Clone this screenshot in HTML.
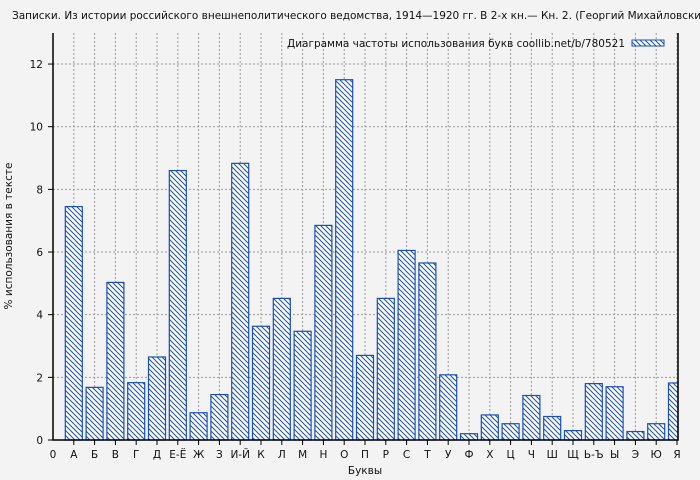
<!DOCTYPE html>
<html><head><meta charset="utf-8"><style>
html,body{margin:0;padding:0;background:#f3f3f3;}
svg{display:block;font-family:"DejaVu Sans","Liberation Sans",sans-serif;}
</style></head><body>
<svg id="chart" width="700" height="480" xmlns="http://www.w3.org/2000/svg">
<defs><pattern id="hatch" patternUnits="userSpaceOnUse" width="5" height="5">
<rect width="5" height="5" fill="#fff"/>
<path d="M-1,-1 L6,6 M-1,4 L1,6 M4,-1 L6,1" stroke="#1a4fb8" stroke-width="1"/>
</pattern></defs>
<text x="12" y="19" font-size="10.5" textLength="700" fill="#111">Записки. Из истории российского внешнеполитического ведомства, 1914—1920 гг. В 2-х кн.— Кн. 2. (Георгий Михайловский)</text>
<g id="grid"></g><g id="bars"></g><g id="axes"></g>
<text transform="translate(12,236) rotate(-90)" text-anchor="middle" font-size="10.5" fill="#111">% использования в тексте</text>
<text x="365" y="474" text-anchor="middle" font-size="10.5" fill="#111">Буквы</text>
<g>
<text x="287" y="47" textLength="338" font-size="10.5" fill="#111">Диаграмма частоты использования букв coollib.net/b/780521</text>
<rect x="632" y="40" width="32" height="6" fill="url(#hatch)" stroke="#1a4fb8"/>
</g>
</svg>
<script>
const categories=["А","Б","В","Г","Д","Е-Ё","Ж","З","И-Й","К","Л","М","Н","О","П","Р","С","Т","У","Ф","Х","Ц","Ч","Ш","Щ","Ь-Ъ","Ы","Э","Ю","Я"];
const values=[7.45,1.68,5.03,1.83,2.65,8.6,0.87,1.45,8.83,3.63,4.52,3.47,6.85,11.5,2.7,4.52,6.05,5.65,2.08,0.2,0.8,0.52,1.42,0.75,0.3,1.8,1.7,0.27,0.52,1.82];
const yTicks=[0,2,4,6,8,10,12];
const NS="http://www.w3.org/2000/svg";
const L=53,R=678,T=33,B=440;
const x=i=>L+i*20.8;
const y=v=>B-v*31.33;
function mk(tag,attrs,parent){const e=document.createElementNS(NS,tag);for(const k in attrs)e.setAttribute(k,attrs[k]);parent.appendChild(e);return e;}
const grid=document.getElementById('grid'),bars=document.getElementById('bars'),axes=document.getElementById('axes');
yTicks.forEach(t=>{
 if(t>0){const g=mk('line',{x1:L,x2:R,y1:y(t),y2:y(t),stroke:'#999','stroke-dasharray':'2,2'},grid);
 
 }
 const tk=mk('line',{x1:L-5,x2:L,y1:y(t),y2:y(t),stroke:'#000'},axes);
 
 
 const lb=mk('text',{x:L-10,y:y(t)+4,'text-anchor':'end','font-size':'10.5',fill:'#111'},axes);lb.textContent=t;
 
 
});
const z=mk('text',{x:L,y:B+18,'text-anchor':'middle','font-size':'10.5',fill:'#111'},axes);z.textContent='0';


categories.forEach((c,i)=>{
 const cx=x(i+1);
 const g=mk('line',{x1:cx,x2:cx,y1:T,y2:B,stroke:'#999','stroke-dasharray':'2,2'},grid);
 
 
 const w=Math.min(17,R-(cx-8.5));
 const b=mk('rect',{x:cx-8.5,y:y(values[i]),width:w,height:B-y(values[i]),fill:'url(#hatch)',stroke:'#1a4fb8','stroke-width':'1.2'},bars);
 
 
 const tk=mk('line',{x1:cx,x2:cx,y1:B,y2:B+5,stroke:'#000'},axes);
 
 
 const lb=mk('text',{x:cx,y:B+18,'text-anchor':'middle','font-size':'10.5',fill:'#111'},axes);lb.textContent=c;
 
 
});
const fr=mk('path',{d:`M${L},${T} L${L},${B} L${R},${B} L${R},${T}`,fill:'none',stroke:'#000','stroke-width':'1.5'},axes);


</script>
</body></html>
